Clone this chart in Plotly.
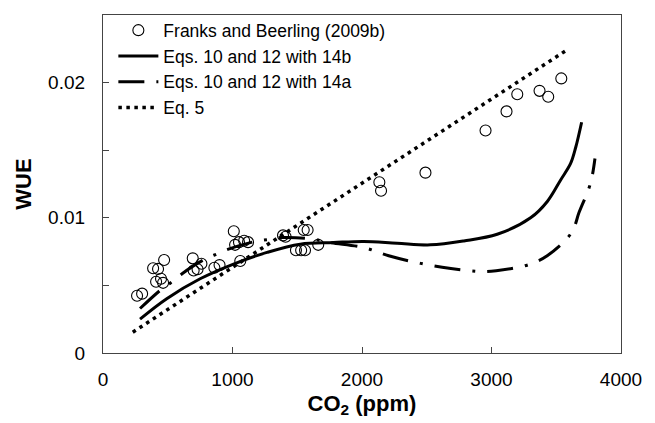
import plotly.graph_objects as go

# Franks and Beerling (2009b) observations
obs_co2 = [263, 302, 387, 425, 472, 410, 448, 464, 693, 700, 730, 760, 860, 900,
           1010, 1020, 1050, 1090, 1120, 1060, 1390, 1410, 1550, 1580, 1490, 1530,
           1560, 1662, 2134, 2147, 2490, 2954, 3116, 3199, 3371, 3438, 3539]
obs_wue = [0.00424, 0.00439, 0.00627, 0.00622, 0.00688, 0.00527, 0.00549, 0.00519,
           0.0070, 0.0061, 0.0062, 0.0066, 0.0063, 0.0065,
           0.0090, 0.0080, 0.0082, 0.0083, 0.0082, 0.0068, 0.0087, 0.0086, 0.0091,
           0.0091, 0.0076, 0.0076, 0.0076, 0.0080, 0.01263, 0.0120, 0.01334,
           0.01646, 0.01787, 0.01914, 0.01939, 0.01895, 0.02031]

# Eqs. 10 and 12 with 14b
b_co2 = [286, 492, 750, 1008, 1266, 1523, 1781, 2013, 2271, 2528, 2786, 3044,
         3302, 3431, 3534, 3611, 3650, 3696]
b_wue = [0.00251, 0.00402, 0.00549, 0.00658, 0.00744, 0.00805, 0.00817, 0.00825,
         0.00812, 0.00800, 0.00829, 0.00878, 0.0100, 0.01121, 0.0128, 0.01402,
         0.0152, 0.01707]

# Eqs. 10 and 12 with 14a
a_co2 = [286, 441, 523, 608, 776, 878, 969, 1162, 1286, 1381, 1587, 1755, 2013,
         2206, 2412, 2619, 2825, 2933, 3036, 3245, 3346, 3430, 3590, 3642, 3675,
         3753, 3779, 3799]
a_wue = [0.00329, 0.00463, 0.0052, 0.00585, 0.00688, 0.00732, 0.00768, 0.00822,
         0.00841, 0.00854, 0.00846, 0.00817, 0.0078, 0.00719, 0.00671, 0.00634,
         0.00609, 0.00602, 0.00609, 0.00642, 0.00675, 0.00719, 0.00854, 0.00939,
         0.01037, 0.0122, 0.01317, 0.01439]

# Eq. 5
e5_co2 = [230, 3593]
e5_wue = [0.00154, 0.02248]

x_ticks = [0, 1000, 2000, 3000, 4000]
x_ticktext = ["0", "1000", "2000", "3000", "4000"]
y_ticks = [0, 0.005, 0.01, 0.015, 0.02]
y_ticktext = ["0", " ", "0.01", " ", "0.02"]

FONT = "Liberation Sans, Arial, sans-serif"

fig = go.Figure()
fig.add_trace(go.Scatter(x=obs_co2, y=obs_wue, mode="markers",
                         name="Franks and Beerling (2009b)",
                         marker=dict(symbol="circle-open", size=11, color="black",
                                     line=dict(width=1.1, color="black"))))
fig.add_trace(go.Scatter(x=b_co2, y=b_wue, mode="lines", name="Eqs. 10 and 12 with 14b",
                         line=dict(color="black", width=3, shape="spline")))
fig.add_trace(go.Scatter(x=a_co2, y=a_wue, mode="lines", name="Eqs. 10 and 12 with 14a",
                         line=dict(color="black", width=3, shape="spline",
                                   dash="26px,12px,3px,12px")))
fig.add_trace(go.Scatter(x=e5_co2, y=e5_wue, mode="lines", name="Eq. 5",
                         line=dict(color="black", width=3.5, dash="3.5px,4.5px")))

fig.update_layout(
    width=655, height=423,
    margin=dict(l=103, r=34, t=13, b=68),
    paper_bgcolor="white", plot_bgcolor="white",
    font=dict(family=FONT, size=19, color="black"),
    showlegend=True,
    legend=dict(x=0.02, y=1.008, xanchor="left", yanchor="top",
                bgcolor="rgba(0,0,0,0)", font=dict(size=17.5),
                itemwidth=40, tracegroupgap=0),
    xaxis=dict(range=[0, 4000], tickvals=x_ticks, ticktext=x_ticktext,
               ticks="inside", ticklen=6, tickcolor="#444", tickwidth=1.3,
               showline=True, linecolor="#444", linewidth=1.3, mirror=True,
               showgrid=False, zeroline=False, ticklabelstandoff=9,
               title=dict(text="<b>CO<sub>2</sub> (ppm)</b>", font=dict(size=22),
                          standoff=6)),
    yaxis=dict(range=[0, 0.025], tickvals=y_ticks, ticktext=y_ticktext,
               ticks="inside", ticklen=6, tickcolor="#444", tickwidth=1.3,
               showline=True, linecolor="#444", linewidth=1.3, mirror=True,
               showgrid=False, zeroline=False, ticklabelstandoff=13,
               title=dict(text="<b>WUE</b>", font=dict(size=22), standoff=10)),
)

fig.write_html("out.html")
